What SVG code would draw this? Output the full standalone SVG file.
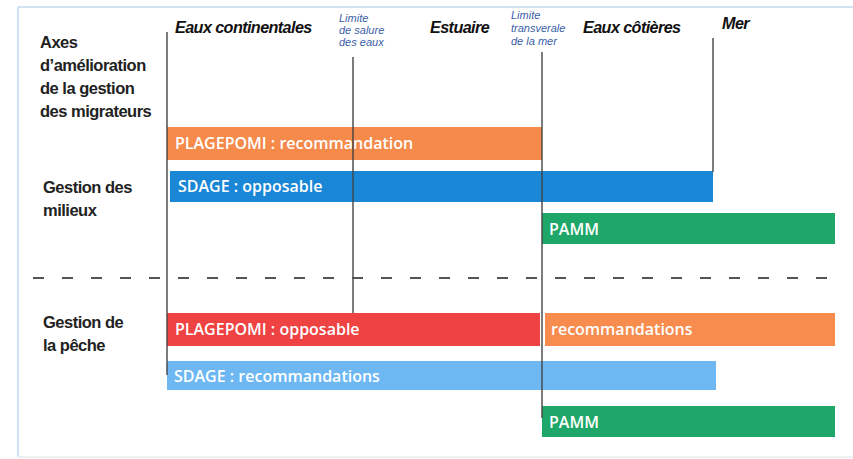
<svg xmlns="http://www.w3.org/2000/svg" width="853" height="459" viewBox="0 0 853 459">
<style>
.hdr{font-family:"Liberation Sans",Arial,sans-serif;font-weight:bold;font-style:italic;font-size:16.2px;fill:#111;letter-spacing:-0.6px}
.lim{font-family:"Liberation Sans",Arial,sans-serif;font-style:italic;font-size:11px;fill:#3a5ea8}
.lbl{font-family:"Liberation Sans",Arial,sans-serif;font-weight:bold;font-size:16.5px;fill:#222;letter-spacing:-0.5px}
.bar{font-family:"Open Sans","Liberation Sans",sans-serif;font-weight:600;font-size:16px;fill:#fff}
.vl{stroke:#444;stroke-width:1.4}
</style>
<rect width="853" height="459" fill="#fff"/>
<g id="frame" fill="none" stroke="#c4dcef" stroke-width="1.5">
<path d="M18 7H853M18 7V457"/>
<path d="M18 457H853" stroke="#eef0f2" stroke-width="2"/>
</g>
<g id="headers">
<text class="hdr" x="175" y="33">Eaux continentales</text>
<text class="lim" x="339" y="22">Limite</text>
<text class="lim" x="339" y="34">de salure</text>
<text class="lim" x="339" y="46">des eaux</text>
<text class="hdr" x="430" y="33">Estuaire</text>
<text class="lim" x="511" y="19">Limite</text>
<text class="lim" x="511" y="32">transverale</text>
<text class="lim" x="511" y="45">de la mer</text>
<text class="hdr" x="583" y="33">Eaux côtières</text>
<text class="hdr" x="722" y="29">Mer</text>
</g>
<g id="labels">
<text class="lbl" x="40" y="48">Axes</text>
<text class="lbl" x="40" y="71">d’amélioration</text>
<text class="lbl" x="40" y="94">de la gestion</text>
<text class="lbl" x="40" y="117">des migrateurs</text>
<text class="lbl" x="43" y="193">Gestion des</text>
<text class="lbl" x="43" y="216">milieux</text>
<text class="lbl" x="43" y="328">Gestion de</text>
<text class="lbl" x="43" y="351">la pêche</text>
</g>
<g id="plagepomi-reco">
<rect x="167" y="127" width="375" height="33" fill="#f58a4b"/>
<text class="bar" x="175" y="149">PLAGEPOMI : recommandation</text>
</g>
<g id="sdage-opposable">
<rect x="170" y="171" width="543" height="31" fill="#1a86d6"/>
<text class="bar" x="178" y="192">SDAGE : opposable</text>
</g>
<g id="pamm-1">
<rect x="542" y="213" width="293" height="31" fill="#1ea769"/>
<text class="bar" x="549" y="235">PAMM</text>
</g>
<g id="plagepomi-opp">
<rect x="167" y="313" width="373" height="33" fill="#ef4343"/>
<text class="bar" x="175" y="335">PLAGEPOMI : opposable</text>
</g>
<g id="recommandations">
<rect x="545" y="313" width="290" height="33" fill="#f88c4e"/>
<text class="bar" x="551" y="335">recommandations</text>
</g>
<g id="sdage-reco">
<rect x="167" y="361" width="549" height="29" fill="#6db7f3"/>
<text class="bar" x="174" y="382">SDAGE : recommandations</text>
</g>
<g id="pamm-2">
<rect x="542" y="406" width="293" height="31" fill="#1ea769"/>
<text class="bar" x="549" y="428">PAMM</text>
</g>
<g id="connectors">
<line class="vl" x1="167" y1="32" x2="167" y2="375"/>
<line class="vl" x1="353" y1="57" x2="353" y2="313"/>
<line class="vl" x1="542" y1="52" x2="542" y2="418"/>
<line class="vl" x1="713" y1="38" x2="713" y2="172"/>
<line x1="33" y1="278" x2="835" y2="278" stroke="#555" stroke-width="1.8" stroke-dasharray="11 18"/>
</g>
</svg>
